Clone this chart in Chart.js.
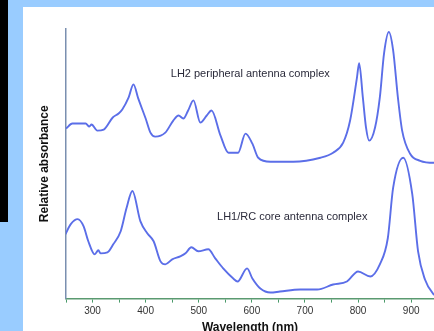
<!DOCTYPE html>
<html>
<head>
<meta charset="utf-8">
<script src="https://cdn.jsdelivr.net/npm/chart.js@4/dist/chart.umd.min.js"></script>
<style>
    html, body { margin: 0; padding: 0; width: 434px; height: 331px; overflow: hidden; background: #99ccff; }
    #black { position: absolute; left: 0; top: 0; width: 8px; height: 222px; background: #000; }
    #paper { position: absolute; left: 23px; top: 7px; width: 411px; height: 324px; background: #fff; }
    #wrap { position: absolute; left: 0; top: 0; width: 434px; height: 338px; }
</style>
</head>
<body>
<div id="black"></div>
<div id="paper"></div>
<div id="wrap"><canvas id="spectraChart"></canvas></div>
<script>
// LH2 peripheral antenna complex (upper trace)
const lh2Wavelength = [250, 262, 287, 294, 298, 309, 321, 338, 349, 356, 368, 377, 386, 400, 409, 418, 437, 452, 462, 471, 480, 490, 503, 515, 524, 541, 556, 574, 588, 601, 612, 635, 678, 729, 753, 772, 785, 798, 802, 809, 815, 821, 832, 841, 849, 858, 866, 875, 883, 898, 917, 943, 950];
const lh2Absorbance = [1.69, 1.74, 1.74, 1.71, 1.73, 1.67, 1.68, 1.80, 1.84, 1.88, 2.00, 2.13, 1.99, 1.79, 1.65, 1.61, 1.65, 1.77, 1.82, 1.79, 1.87, 1.97, 1.75, 1.82, 1.87, 1.62, 1.45, 1.45, 1.64, 1.54, 1.40, 1.36, 1.36, 1.40, 1.45, 1.55, 1.77, 2.20, 2.34, 2.00, 1.70, 1.57, 1.70, 2.00, 2.44, 2.65, 2.47, 2.00, 1.67, 1.44, 1.37, 1.35, 1.35];

// LH1/RC core antenna complex (lower trace)
const lh1Wavelength = [249, 259, 272, 283, 292, 304, 311, 315, 328, 339, 353, 364, 375, 390, 403, 415, 428, 437, 450, 465, 475, 486, 499, 518, 531, 546, 565, 573, 591, 601, 616, 635, 653, 691, 723, 753, 779, 800, 823, 841, 856, 866, 885, 902, 913, 926, 941, 950];
const lh1Absorbance = [0.64, 0.74, 0.79, 0.72, 0.57, 0.44, 0.48, 0.45, 0.46, 0.54, 0.67, 0.90, 1.07, 0.77, 0.65, 0.57, 0.37, 0.34, 0.39, 0.42, 0.45, 0.51, 0.47, 0.49, 0.40, 0.30, 0.20, 0.17, 0.30, 0.20, 0.10, 0.06, 0.07, 0.09, 0.09, 0.14, 0.17, 0.27, 0.22, 0.34, 0.60, 1.10, 1.40, 1.04, 0.47, 0.19, 0.05, 0.02];

// x axis tick marks (labels only on the hundreds)
const xTicks = [250, 300, 350, 400, 450, 500, 550, 600, 650, 700, 750, 800, 850, 900];

// text labels placed inside the plot
const complexLabels = ['LH2 peripheral antenna complex', 'LH1/RC core antenna complex'];
const labelAt = [[597, 2.23], [676, 0.81]];

const fontFamily = "'Liberation Sans', Arial, sans-serif";
const lineColor = '#5b6ee8';

function toPoints(xs, ys) {
    return xs.map((x, i) => ({ x: x, y: ys[i] }));
}

// draws the two complex names at data coordinates
const complexLabelPlugin = {
    id: 'complexLabels',
    afterDatasetsDraw(chart) {
        const { ctx, scales } = chart;
        ctx.save();
        ctx.font = '11px ' + fontFamily;
        ctx.fillStyle = '#2a2a3a';
        ctx.textAlign = 'center';
        ctx.textBaseline = 'middle';
        complexLabels.forEach((text, i) => {
            ctx.fillText(text, scales.x.getPixelForValue(labelAt[i][0]), scales.y.getPixelForValue(labelAt[i][1]));
        });
        ctx.restore();
    }
};

const ctx = document.getElementById('spectraChart').getContext('2d');

new Chart(ctx, {
    type: 'line',
    data: {
        datasets: [
            {
                label: 'LH2',
                data: toPoints(lh2Wavelength, lh2Absorbance),
                borderColor: lineColor,
                borderWidth: 1.9,
                pointRadius: 0,
                cubicInterpolationMode: 'monotone'
            },
            {
                label: 'LH1/RC',
                data: toPoints(lh1Wavelength, lh1Absorbance),
                borderColor: lineColor,
                borderWidth: 1.9,
                pointRadius: 0,
                cubicInterpolationMode: 'monotone'
            }
        ]
    },
    options: {
        responsive: true,
        maintainAspectRatio: false,
        animation: false,
        layout: { padding: { top: 29, left: 25, right: 0, bottom: 0 } },
        plugins: {
            legend: { display: false },
            tooltip: { enabled: false }
        },
        scales: {
            x: {
                type: 'linear',
                min: 250,
                max: 943,
                afterBuildTicks: function (scale) {
                    scale.ticks = xTicks.map(v => ({ value: v }));
                },
                grid: {
                    display: true,
                    drawOnChartArea: false,
                    drawTicks: true,
                    tickLength: 4,
                    color: '#4a9a6a'
                },
                border: { display: true, color: '#5a9a70', width: 1.5 },
                ticks: {
                    autoSkip: false,
                    maxRotation: 0,
                    padding: 3,
                    color: '#333',
                    font: { family: fontFamily, size: 10 },
                    callback: function (value) {
                        return value % 100 === 0 ? value : '';
                    }
                },
                title: {
                    display: true,
                    text: 'Wavelength (nm)',
                    color: '#111',
                    font: { family: fontFamily, size: 12, weight: 'bold' },
                    padding: { top: 0, bottom: 3 }
                }
            },
            y: {
                min: 0,
                max: 2.68,
                grid: { display: false },
                border: { display: true, color: '#7a8fb0', width: 1.5 },
                ticks: { display: false },
                title: {
                    display: true,
                    text: 'Relative absorbance',
                    color: '#111',
                    font: { family: fontFamily, size: 12, weight: 'bold' },
                    padding: { top: 12.8, bottom: 5.8 }
                }
            }
        }
    },
    plugins: [complexLabelPlugin]
});
</script>
</body>
</html>
